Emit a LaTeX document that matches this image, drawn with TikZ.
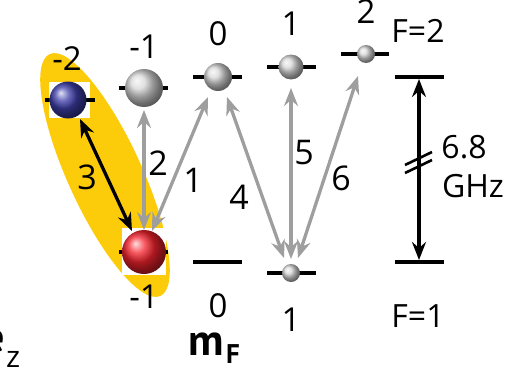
\documentclass[tikz,border=0pt]{standalone}
\usepackage{fontspec}
\setmainfont{Open Sans}
\newfontfamily\mfont{PT Sans}
\usetikzlibrary{arrows.meta}
\definecolor{ellyellow}{RGB}{252,204,10}
\definecolor{arrgray}{RGB}{158,158,158}
\definecolor{ballblue}{RGB}{62,62,170}
\definecolor{ballred}{RGB}{245,35,45}
\begin{document}
\begin{tikzpicture}[x=1pt,y=-1pt,
  lvl/.style={line width=4.5pt},
  ga/.style={draw=arrgray,line width=3.3pt,{Stealth[length=18pt,width=14pt,inset=6pt]}-{Stealth[length=18pt,width=14pt,inset=6pt]}},
  ba/.style={draw=black,line width=3.3pt,{Stealth[length=18pt,width=14pt,inset=6pt]}-{Stealth[length=18pt,width=14pt,inset=6pt]}},
  sphere/.style={circle,inner sep=0pt,shading=ball},
  graysph/.style={sphere,ball color=gray!32},
  lab/.style={font=\fontsize{33}{36}\selectfont,inner sep=0pt},
  flab/.style={font=\fontsize{32}{35}\selectfont,inner sep=0pt},
  alab/.style={font=\fontsize{34}{37}\selectfont,inner sep=0pt},
]
\useasboundingbox (0,0) rectangle (505,369);
% yellow ellipse
\fill[ellyellow,rotate around={-65.4:(105,175)}] (105,175) ellipse [x radius=133,y radius=37];
% white squares
\fill[white] (49,82) rectangle (90,118);
\fill[white] (122,228) rectangle (166,275);
% level bars
\draw[lvl] (45,100) -- (95,100);
\draw[lvl] (119,88) -- (168,88);
\draw[lvl] (193,77) -- (242,77);
\draw[lvl] (267,67) -- (316,67);
\draw[lvl] (341,54) -- (389,54);
\draw[lvl] (119,252) -- (168,252);
\draw[lvl] (193,262) -- (242,262);
\draw[lvl] (267,273) -- (316,273);
\draw[lvl] (395,77) -- (444,77);
\draw[lvl] (395,262) -- (444,262);
% spheres
\node[sphere,ball color=ballblue,minimum size=37pt] (sb) at (68,100) {};
\node[graysph,minimum size=38pt] (s1) at (144,88) {};
\node[graysph,minimum size=28pt] (s2) at (218,77) {};
\node[graysph,minimum size=25pt] (s3) at (291,67) {};
\node[graysph,minimum size=18pt] (s4) at (366,54) {};
\node[sphere,ball color=ballred,minimum size=44pt] (sr) at (144,252) {};
\node[graysph,minimum size=18pt] (s5) at (291,273) {};
% arrow end points
\coordinate (a3t) at (80,119);
\coordinate (a3b) at (132,231);
\coordinate (a2t) at (144,110);
\coordinate (a2b) at (144,230);
\coordinate (a1t) at (208,97);
\coordinate (a1b) at (152,231);
\coordinate (a4t) at (227,97);
\coordinate (a4b) at (284,258);
\coordinate (a5t) at (291,88);
\coordinate (a5b) at (291,259);
\coordinate (a6t) at (358,76);
\coordinate (a6b) at (298,258);
\coordinate (fT) at (419,79);
\coordinate (fB) at (419,260);
% arrows
\draw[ga] (a2t) -- (a2b);
\draw[ga] (a1b) -- (a1t);
\draw[ga] (a4t) -- (a4b);
\draw[ga] (a5t) -- (a5b);
\draw[ga] (a6b) -- (a6t);
\draw[ba] (a3t) -- (a3b);
\draw[ba] (fT) -- (fB);
% break marks
\coordinate (k1a) at (405,165);
\coordinate (k1b) at (432,152);
\coordinate (k2a) at (405,173);
\coordinate (k2b) at (432,160);
\draw[line width=2.6pt] (k1a) -- (k1b);
\draw[line width=2.6pt] (k2a) -- (k2b);
% level labels
\node[lab] (l1) at (67,59) {-2};
\node[lab] (l2) at (144,47) {-1};
\node[lab] (l3) at (218,34) {0};
\node[lab] (l4) at (291,24) {1};
\node[lab] (l5) at (366,12) {2};
\node[flab] (l6) at (418,31) {F=2};
\node[lab] (l7) at (144,297) {-1};
\node[lab] (l8) at (218,306) {0};
\node[lab] (l9) at (291,320) {1};
\node[flab] (l10) at (418,316) {F=1};
\node[flab] (g1) at (464,147) {6.8};
\node[flab] (g2) at (473,186) {GHz};
% arrow labels
\node[alab] (n3) at (87,177) {3};
\node[alab] (n2) at (158,163) {2};
\node[alab] (n1) at (193,180) {1};
\node[alab] (n4) at (239,197) {4};
\node[alab] (n5) at (304,153) {5};
\node[alab] (n6) at (341,178) {6};
% m_F
\node[anchor=base east,inner sep=0pt,font=\mfont\fontsize{44}{46}\selectfont\bfseries] (mm) at (224,355) {m};
\node[anchor=base west,inner sep=0pt,font=\mfont\fontsize{27}{29}\selectfont\bfseries] (mf) at (226,363) {F};
% cut e_z
\node[anchor=base east,inner sep=0pt,font=\mfont\fontsize{44}{46}\selectfont\bfseries] (ee) at (5,352) {e};
\node[anchor=base west,inner sep=0pt,font=\fontsize{30}{33}\selectfont] (ez) at (6,367) {z};
\end{tikzpicture}
\end{document}
